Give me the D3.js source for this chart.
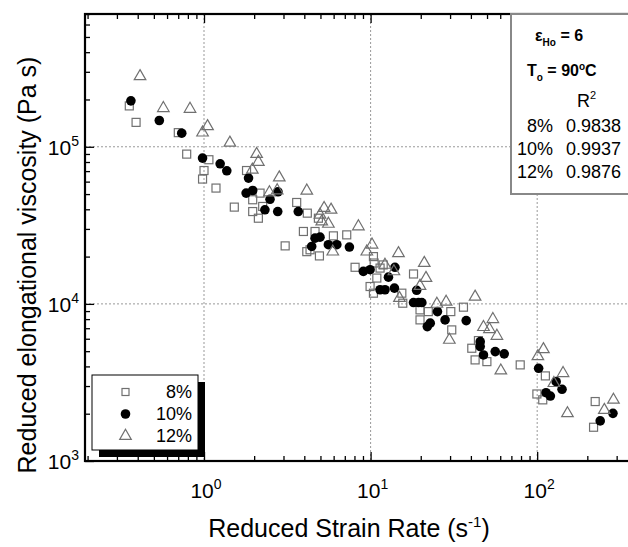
<!DOCTYPE html>
<html>
<head>
<meta charset="utf-8">
<script src="https://cdn.jsdelivr.net/npm/d3@7"></script>
<style>
  body { margin: 0; background: #fff; }
  svg { font-family: "Liberation Sans", Arial, sans-serif; }
</style>
</head>
<body>
<script>
// reduced strain rate (1/s) and reduced elongational viscosity (Pa s)
const rate8 = [0.356,0.391,0.701,0.787,1.07,1.0,0.98,1.18,1.80,2.17,1.96,1.52,1.96,2.12,2.25,3.60,4.17,4.86,3.95,4.64,4.33,5.98,3.07,4.14,4.93,7.19,10.4,8.07,11.4,10.9,9.93,10.4,10.5,11.9,18.1,15.4,15.6,19.8,22.2,30.3,19.8,30.7,36.1,44.4,40.5,42.4,49.9,79.1,112,99.6,108,223,218];
const visc8 = [1.82e5,1.43e5,1.23e5,8.98e4,8.27e4,7.06e4,6.23e4,5.46e4,7.06e4,5.07e4,4.6e4,4.13e4,3.87e4,3.51e4,4.17e4,4.42e4,3.78e4,3.51e4,2.89e4,2.89e4,2.21e4,2.71e4,2.34e4,2.15e4,2.02e4,2.75e4,2.0e4,1.71e4,1.69e4,1.46e4,1.29e4,1.17e4,1.82e4,1.77e4,1.55e4,1.17e4,1.01e4,9.16e3,8.93e3,8.93e3,7.91e3,6.83e3,9.53e3,5.84e3,5.22e3,4.40e3,4.29e3,4.09e3,3.48e3,2.67e3,2.45e3,2.39e3,1.64e3];

const rate10 = [0.364,0.539,0.735,0.98,1.25,1.37,1.85,1.79,1.96,2.49,2.78,2.32,2.77,3.68,4.64,4.97,4.43,5.58,6.27,7.46,9.05,9.93,14.0,12.8,11.4,12.2,13.9,18.1,19.4,20.3,18.9,25.2,28.0,22.8,21.9,37.5,45.5,45.5,47.6,56.0,63.4,102,130,141,113,120,285,239];
const visc10 = [1.96e5,1.47e5,1.22e5,8.47e4,7.79e4,7.03e4,6.32e4,5.07e4,5.27e4,4.63e4,5.17e4,3.97e4,3.87e4,3.87e4,2.62e4,2.66e4,2.32e4,2.38e4,2.38e4,2.30e4,1.61e4,1.65e4,1.71e4,1.48e4,1.23e4,1.23e4,1.26e4,1.02e4,1.02e4,1.02e4,1.22e4,8.93e3,7.91e3,7.54e3,7.17e3,7.83e3,5.75e3,5.35e3,4.73e3,4.97e3,4.81e3,3.89e3,3.20e3,2.86e3,2.72e3,2.59e3,2.01e3,1.80e3];

const rate12 = [0.413,0.570,0.824,1.05,0.98,1.43,2.07,2.12,1.95,2.83,2.47,2.75,4.14,5.26,5.79,4.97,5.09,5.58,5.93,8.45,10.2,9.49,14.7,12.2,13.8,21.0,21.5,19.8,14.9,25.0,28.4,29.7,42.4,54.2,47.6,51.7,57.3,60.5,109,101,143,126,152,287,253];
const visc12 = [2.81e5,1.76e5,1.74e5,1.35e5,1.23e5,1.06e5,8.98e4,8.0e4,7.14e4,6.37e4,5.12e4,5.27e4,5.25e4,4.07e4,3.97e4,3.69e4,3.34e4,3.23e4,2.15e4,3.11e4,2.38e4,2.15e4,2.10e4,1.77e4,1.61e4,1.82e4,1.46e4,1.30e4,1.09e4,1.0e4,1.03e4,5.90e3,1.11e4,7.99e3,7.11e3,6.90e3,6.25e3,3.76e3,5.14e3,4.64e3,3.62e3,3.13e3,2.01e3,2.45e3,2.11e3];

const seriesNames = ['8%', '10%', '12%'];
const r2Values = ['0.9838', '0.9937', '0.9876'];
const xDecades = [1, 10, 100];
const yDecades = [1e3, 1e4, 1e5];

function main(){
    const width = 628, height = 547;
    const left = 85, right = 641, top = 14, bottom = 461;

    const svg = d3.select('body').append('svg')
        .attr('width', width)
        .attr('height', height);

    const x = d3.scaleLog().domain([0.193, 420]).range([left, right]);
    const y = d3.scaleLog().domain([1e3, 7e5]).range([bottom, top]);

    // dotted grid at the decades
    svg.append('g').selectAll('line.gx')
        .data(xDecades).enter().append('line')
        .attr('x1', d => x(d)).attr('x2', d => x(d))
        .attr('y1', top).attr('y2', bottom)
        .attr('stroke', '#999').attr('stroke-width', 1).attr('stroke-dasharray', '2,2');
    svg.append('g').selectAll('line.gy')
        .data(yDecades.slice(1)).enter().append('line')
        .attr('x1', left).attr('x2', right)
        .attr('y1', d => y(d)).attr('y2', d => y(d))
        .attr('stroke', '#999').attr('stroke-width', 1).attr('stroke-dasharray', '2,2');

    // minor / major ticks, pointing inside the frame
    const xMinor = x.ticks().filter(d => !xDecades.includes(d));
    const yMinor = y.ticks().filter(d => !yDecades.includes(d));

    function tickAxis(gen, tr){
        const g = svg.append('g').attr('transform', tr).call(gen);
        g.select('.domain').remove();
        g.selectAll('line').attr('stroke', '#000').attr('stroke-width', 1.3);
        return g;
    }
    tickAxis(d3.axisBottom(x).tickValues(xMinor).tickSize(-5).tickFormat(''), `translate(0,${bottom})`);
    tickAxis(d3.axisBottom(x).tickValues(xDecades).tickSize(-9).tickFormat(''), `translate(0,${bottom})`);
    tickAxis(d3.axisTop(x).tickValues(xMinor).tickSize(-5).tickFormat(''), `translate(0,${top})`);
    tickAxis(d3.axisTop(x).tickValues(xDecades).tickSize(-9).tickFormat(''), `translate(0,${top})`);
    tickAxis(d3.axisLeft(y).tickValues(yMinor).tickSize(-5).tickFormat(''), `translate(${left},0)`);
    tickAxis(d3.axisLeft(y).tickValues(yDecades).tickSize(-9).tickFormat(''), `translate(${left},0)`);

    // decade labels 10^n
    const xl = svg.append('g').selectAll('text')
        .data(xDecades).enter().append('text')
        .attr('x', d => x(d) + 2).attr('y', 498)
        .attr('text-anchor', 'middle').attr('font-size', 21);
    xl.append('tspan').text('10');
    xl.append('tspan').attr('dy', -9).attr('font-size', 14).text(d => Math.round(Math.log10(d)));

    const yl = svg.append('g').selectAll('text')
        .data(yDecades).enter().append('text')
        .attr('x', 79).attr('y', d => y(d) + 8)
        .attr('text-anchor', 'end').attr('font-size', 21);
    yl.append('tspan').text('10');
    yl.append('tspan').attr('dy', -9).attr('font-size', 14).text(d => Math.round(Math.log10(d)));

    // data
    const d8 = rate8.map((r, i) => [r, visc8[i]]);
    const d10 = rate10.map((r, i) => [r, visc10[i]]);
    const d12 = rate12.map((r, i) => [r, visc12[i]]);

    svg.append('g').selectAll('rect')
        .data(d8).enter().append('rect')
        .attr('x', d => x(d[0]) - 4).attr('y', d => y(d[1]) - 4)
        .attr('width', 8).attr('height', 8)
        .attr('fill', 'none').attr('stroke', '#707070').attr('stroke-width', 1.2);

    svg.append('g').selectAll('circle')
        .data(d10).enter().append('circle')
        .attr('cx', d => x(d[0])).attr('cy', d => y(d[1]))
        .attr('r', 4.8).attr('fill', '#000');

    const tri = d3.symbol().type(d3.symbolTriangle).size(58);
    svg.append('g').selectAll('path')
        .data(d12).enter().append('path')
        .attr('d', tri)
        .attr('transform', d => `translate(${x(d[0])},${y(d[1])})`)
        .attr('fill', 'none').attr('stroke', '#707070').attr('stroke-width', 1.2);

    // frame
    svg.append('rect')
        .attr('x', left).attr('y', top)
        .attr('width', right - left).attr('height', bottom - top)
        .attr('fill', 'none').attr('stroke', '#000').attr('stroke-width', 2.2);

    // legend with drop shadow
    const lg = svg.append('g');
    lg.append('rect').attr('x', 99).attr('y', 382).attr('width', 106).attr('height', 75).attr('fill', '#000');
    lg.append('rect').attr('x', 92).attr('y', 375).attr('width', 106).attr('height', 75)
        .attr('fill', '#fff').attr('stroke', '#000').attr('stroke-width', 1);
    const rowY = [392, 414, 436];
    lg.append('rect').attr('x', 122).attr('y', rowY[0] - 3.5).attr('width', 7).attr('height', 7)
        .attr('fill', 'none').attr('stroke', '#707070').attr('stroke-width', 1.2);
    lg.append('circle').attr('cx', 125.5).attr('cy', rowY[1]).attr('r', 4.8).attr('fill', '#000');
    lg.append('path').attr('d', tri).attr('transform', `translate(125.5,${rowY[2]})`)
        .attr('fill', 'none').attr('stroke', '#707070').attr('stroke-width', 1.2);
    lg.selectAll('text').data(seriesNames).enter().append('text')
        .attr('x', 192).attr('y', (d, i) => rowY[i] + 6)
        .attr('text-anchor', 'end').attr('font-size', 18).text(d => d);

    // info box, top right
    const ib = svg.append('g');
    ib.append('rect').attr('x', 511).attr('y', 14).attr('width', 130).attr('height', 180)
        .attr('fill', '#fff').attr('stroke', '#888').attr('stroke-width', 2);
    const t1 = ib.append('text').attr('x', 535).attr('y', 41).attr('font-size', 16).attr('font-weight', 'bold');
    t1.append('tspan').text('ε');
    t1.append('tspan').attr('dy', 5).attr('font-size', 10).text('Ho');
    t1.append('tspan').attr('dy', -5).text(' = 6');
    const t2 = ib.append('text').attr('x', 527).attr('y', 76).attr('font-size', 16).attr('font-weight', 'bold');
    t2.append('tspan').text('T');
    t2.append('tspan').attr('dy', 5).attr('font-size', 10).text('o');
    t2.append('tspan').attr('dy', -5).text(' = 90');
    t2.append('tspan').attr('dy', -6).attr('font-size', 10).text('o');
    t2.append('tspan').attr('dy', 6).text('C');
    const t3 = ib.append('text').attr('x', 577).attr('y', 107).attr('font-size', 18);
    t3.append('tspan').text('R');
    t3.append('tspan').attr('dy', -8).attr('font-size', 11).text('2');
    const rowsR = [132, 155, 178];
    ib.selectAll('text.lab').data(seriesNames).enter().append('text')
        .attr('x', 553).attr('y', (d, i) => rowsR[i])
        .attr('text-anchor', 'end').attr('font-size', 18).text(d => d);
    ib.selectAll('text.val').data(r2Values).enter().append('text')
        .attr('x', 566).attr('y', (d, i) => rowsR[i])
        .attr('font-size', 18).text(d => d);

    // axis titles
    const xt = svg.append('text').attr('x', 349).attr('y', 537)
        .attr('text-anchor', 'middle').attr('font-size', 25);
    xt.append('tspan').text('Reduced Strain Rate (s');
    xt.append('tspan').attr('dy', -10).attr('font-size', 15).text('-1');
    xt.append('tspan').attr('dy', 10).text(')');

    svg.append('text')
        .attr('transform', 'translate(36,265) rotate(-90)')
        .attr('text-anchor', 'middle').attr('font-size', 25)
        .text('Reduced elongational viscosity (Pa s)');
}

main()
</script>
</body>
</html>
